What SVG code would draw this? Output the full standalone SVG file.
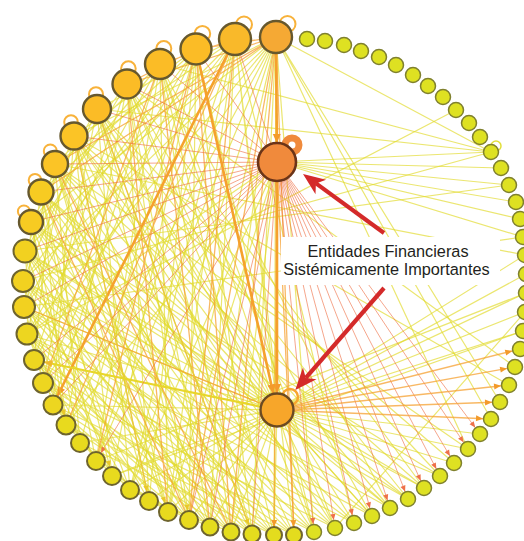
<svg xmlns="http://www.w3.org/2000/svg" width="524" height="541" viewBox="0 0 524 541">
<style>
.y{fill:none;stroke:#e2da2c;stroke-width:1.2;stroke-opacity:.68}
.o{fill:none;stroke:#f5a030;stroke-width:1.3;stroke-opacity:.75}
.r{fill:none;stroke:#ee6b40;stroke-width:1;stroke-opacity:.6}
.ot{fill:none;stroke:#f5a12c;stroke-width:2.6}
.yt{fill:none;stroke:#e8d62a;stroke-width:2.2}
.lp{fill:none;stroke:#f8b23a;stroke-width:2}
.nb{stroke:#66582e;stroke-width:2.4}
.nm{stroke:#6e642e;stroke-width:2}
.ns{stroke:#7f802e;stroke-width:1.5;fill:#dee122}
.lbl{font-family:"Liberation Sans",Arial,sans-serif;font-size:16.3px;fill:#231f20;text-anchor:middle}
.ar{stroke:#d42a2a;stroke-width:4.2;fill:none}
.ah{fill:#d42a2a}
</style>
<defs>
<marker id="mo8" markerUnits="userSpaceOnUse" orient="auto" refX="8" refY="0" markerWidth="1" markerHeight="1" overflow="visible"><path d="M0 0L-7-3L-7 3Z" fill="#f39a2a"/></marker>
<marker id="mo10" markerUnits="userSpaceOnUse" orient="auto" refX="10" refY="0" markerWidth="1" markerHeight="1" overflow="visible"><path d="M0 0L-9-4L-9 4Z" fill="#f39a2a"/></marker>
<marker id="mo17" markerUnits="userSpaceOnUse" orient="auto" refX="17" refY="0" markerWidth="1" markerHeight="1" overflow="visible"><path d="M0 0L-9-4L-9 4Z" fill="#f39a2a"/></marker>
<marker id="mo19" markerUnits="userSpaceOnUse" orient="auto" refX="19" refY="0" markerWidth="1" markerHeight="1" overflow="visible"><path d="M0 0L-9-4L-9 4Z" fill="#f39a2a"/></marker>
<marker id="mr8" markerUnits="userSpaceOnUse" orient="auto" refX="8" refY="0" markerWidth="1" markerHeight="1" overflow="visible"><path d="M0 0L-6-2.6L-6 2.6Z" fill="#ee7048"/></marker>
<marker id="mr9" markerUnits="userSpaceOnUse" orient="auto" refX="9.5" refY="0" markerWidth="1" markerHeight="1" overflow="visible"><path d="M0 0L-6-2.6L-6 2.6Z" fill="#ee7048"/></marker>
<marker id="my9" markerUnits="userSpaceOnUse" orient="auto" refX="9.5" refY="0" markerWidth="1" markerHeight="1" overflow="visible"><path d="M0 0L-6-2.6L-6 2.6Z" fill="#e9c82a"/></marker>
<marker id="my10" markerUnits="userSpaceOnUse" orient="auto" refX="10.5" refY="0" markerWidth="1" markerHeight="1" overflow="visible"><path d="M0 0L-8-3.5L-8 3.5Z" fill="#f0b830"/></marker>
</defs>
<rect width="524" height="541" fill="#fff"/>
<g id="connectors">
<path class="y" d="M235 39L210 527M235 39L168 512M235 39L130 490M235 39L96 461M235 39L34 360M235 39L24 307M235 39L25 251M235 39L55 164M235 39L294 535M235 39L354 523M235 39L277 410"/>
<path class="y" d="M196 49L252 534M196 49L189 520M196 49L149 501M196 49L112 476M196 49L80 443M196 49L43 383M196 49L27 334M196 49L23 281M196 49L41 192M196 49L314 532"/>
<path class="y" d="M160 64L335 528M160 64L274 535M160 64L231 532M160 64L168 512M160 64L96 461M160 64L53 405M160 64L24 307M160 64L31 222M160 64L390 508M160 64L277 410"/>
<path class="y" d="M127 84L372 516M127 84L314 532M127 84L252 534M127 84L210 527M127 84L149 501M127 84L66 425M127 84L34 360M127 84L25 251M127 84L424 488"/>
<path class="y" d="M97 109L408 499M97 109L354 523M97 109L294 535M97 109L231 532M97 109L189 520M97 109L130 490M97 109L43 383M97 109L23 281M97 109L440 476M97 109L277 410"/>
<path class="y" d="M74 136L390 508M74 136L335 528M74 136L274 535M74 136L210 527M74 136L168 512M74 136L112 476M74 136L53 405M74 136L27 334M74 136L454 463"/>
<path class="y" d="M55 164L424 488M55 164L372 516M55 164L314 532M55 164L252 534M55 164L189 520M55 164L149 501M55 164L80 443M55 164L34 360M55 164L468 449M55 164L277 410"/>
<path class="y" d="M41 192L408 499M41 192L354 523M41 192L294 535M41 192L231 532M41 192L168 512M41 192L96 461M41 192L66 425"/>
<path class="y" d="M31 222L440 476M31 222L390 508M31 222L335 528M31 222L274 535M31 222L210 527M31 222L130 490M31 222L80 443M31 222L277 410"/>
<path class="y" d="M25 251L424 488M25 251L372 516M25 251L314 532M25 251L252 534M25 251L189 520M25 251L112 476M25 251L277 410"/>
<path class="y" d="M23 281L408 499M23 281L354 523M23 281L294 535M23 281L231 532M23 281L149 501M23 281L66 425M23 281L277 410"/>
<path class="y" d="M24 307L390 508M24 307L335 528M24 307L274 535M24 307L210 527M24 307L130 490M24 307L277 410"/>
<path class="y" d="M27 334L372 516M27 334L314 532M27 334L252 534M27 334L189 520M27 334L96 461M27 334L456 110"/>
<path class="y" d="M34 360L354 523M34 360L294 535M34 360L231 532M34 360L168 512M43 383L335 528M43 383L274 535M43 383L210 527M53 405L314 532M53 405L252 534M53 405L189 520M53 405L277 410M66 425L294 535M66 425L231 532M80 443L274 535M80 443L277 410"/>
<path class="y" d="M276 37L252 534M276 37L210 527M276 37L168 512M276 37L130 490M276 37L96 461M276 37L66 425M276 37L43 383M276 37L27 334M276 37L23 281M276 37L31 222M276 37L74 136M276 37L314 532M276 37L274 535M276 37L491 152M276 37L491 419M276 37L468 449M276 37L500 402"/>
<path class="y" d="M235 39L97 109M196 49L74 136M160 64L55 164M127 84L41 192M97 109L31 222M74 136L25 251M55 164L23 281M41 192L24 307M31 222L27 334M25 251L34 360M23 281L43 383M24 307L53 405M27 334L66 425M34 360L80 443M43 383L96 461M53 405L112 476M66 425L130 490M80 443L149 501M96 461L168 512M112 476L189 520M130 490L210 527M149 501L231 532"/>
<path class="y" d="M277 410L335 528M277 410L314 532M277 410L274 535M277 410L252 534M277 410L231 532M277 410L210 527M277 410L189 520M277 410L168 512M277 410L149 501M277 410L130 490M277 410L112 476M277 410L27 334M277 410L41 192M277 410L74 136M277 410L127 84M277 410L526 293M277 410L525 312M277 410L523 331M277 410L525 255M277 410L526 274M277 410L480 434M277 410L372 516M277 410L408 499M277 410L468 449M277 410L454 463M277 410L440 476M277 410L424 488M277 410L390 508"/>
<path class="y" d="M277 162L27 334M277 162L66 425M277 162L130 490M277 162L168 512M277 162L231 532M277 162L520 219M277 162L516 202M277 162L509 185M277 162L491 152M277 162L523 237M277 162L501 168"/>
<path class="y" d="M491 152L97 109M491 152L160 64M491 152L23 281M523 237L24 307M525 255L55 164M509 185L25 251M526 293L96 461M523 331L112 476M525 312L335 528M127 84L515 367M74 136L509 385"/>
<path class="o" d="M235 39L189 520M235 39L66 425M196 49L231 532M196 49L96 461M160 64L210 527M160 64L43 383M127 84L168 512M97 109L252 534M74 136L149 501M55 164L231 532M41 192L189 520M276 37L231 532M276 37L294 535M276 37L189 520M276 37L55 164M276 37L41 192M276 37L127 84M235 39L160 64M196 49L127 84M276 37L196 49M277 410L24 307"/>
<path class="r" d="M277 162L235 39M277 162L196 49M277 162L160 64M277 162L127 84M277 162L97 109M277 162L74 136M277 162L55 164M277 162L41 192M277 162L31 222M277 162L25 251M277 162L23 281M277 162L24 307M277 162L34 360M277 162L43 383M277 162L53 405M277 162L252 534M277 162L210 527M277 162L189 520"/>
<line class="ot" x1="276" y1="37" x2="277" y2="162" marker-end="url(#mo19)"/>
<line class="ot" x1="277" y1="162" x2="277" y2="410" marker-end="url(#mo17)"/>
<line class="ot" x1="196" y1="49" x2="277" y2="410" marker-end="url(#mo17)"/>
<line class="ot" x1="235" y1="39" x2="53" y2="405" marker-end="url(#mo10)"/>
<line class="yt" x1="277" y1="410" x2="34" y2="360" marker-end="url(#my10)"/>
<line class="r" x1="277" y1="162" x2="96" y2="461" marker-end="url(#mr9)"/>
<line class="r" x1="277" y1="162" x2="480" y2="434" marker-end="url(#mr8)"/>
<line class="r" x1="277" y1="162" x2="468" y2="449" marker-end="url(#mr8)"/>
<line class="r" x1="277" y1="162" x2="454" y2="463" marker-end="url(#mr8)"/>
<line class="r" x1="277" y1="162" x2="440" y2="476" marker-end="url(#mr8)"/>
<line class="r" x1="277" y1="162" x2="424" y2="488" marker-end="url(#mr8)"/>
<line class="r" x1="277" y1="162" x2="408" y2="499" marker-end="url(#mr8)"/>
<line class="r" x1="277" y1="162" x2="390" y2="508" marker-end="url(#mr8)"/>
<line class="r" x1="277" y1="162" x2="372" y2="516" marker-end="url(#mr8)"/>
<line class="r" x1="277" y1="162" x2="354" y2="523" marker-end="url(#mr8)"/>
<line class="r" x1="277" y1="162" x2="335" y2="528" marker-end="url(#mr8)"/>
<line class="r" x1="277" y1="162" x2="314" y2="532" marker-end="url(#mr8)"/>
<line class="o" x1="277" y1="162" x2="294" y2="535" marker-end="url(#mo8)"/>
<line class="o" x1="277" y1="162" x2="274" y2="535" marker-end="url(#mo8)"/>
<line class="o" x1="277" y1="410" x2="520" y2="349" marker-end="url(#mo8)"/>
<line class="o" x1="277" y1="410" x2="515" y2="367" marker-end="url(#mo8)"/>
<line class="o" x1="277" y1="410" x2="509" y2="385" marker-end="url(#mo8)"/>
<line class="o" x1="277" y1="410" x2="500" y2="402" marker-end="url(#mo8)"/>
<line class="o" x1="277" y1="410" x2="491" y2="419" marker-end="url(#mo8)"/>
<line class="y" x1="74" y1="136" x2="149" y2="501" marker-end="url(#my9)"/>
<line class="y" x1="41" y1="192" x2="112" y2="476" marker-end="url(#my9)"/>
<line class="y" x1="31" y1="222" x2="66" y2="425" marker-end="url(#my9)"/>
<line class="y" x1="127" y1="84" x2="189" y2="520" marker-end="url(#my9)"/>
<line class="y" x1="97" y1="109" x2="252" y2="534" marker-end="url(#my9)"/>
<line class="y" x1="55" y1="164" x2="168" y2="512" marker-end="url(#my9)"/>
<circle class="lp" cx="287.5" cy="24" r="8"/>
<circle class="lp" cx="244" cy="24.5" r="8"/>
<circle class="lp" cx="202.4" cy="33.8" r="7.8"/>
<circle class="lp" cx="163.8" cy="48.5" r="7.5"/>
<circle class="lp" cx="128.4" cy="68.6" r="7.3"/>
<circle class="lp" cx="96" cy="94.2" r="7"/>
<circle class="lp" cx="71" cy="122" r="6.8"/>
<circle class="lp" cx="50.3" cy="151" r="6.5"/>
<circle class="lp" cx="35" cy="180.2" r="6.3"/>
<circle class="lp" cx="23.9" cy="211.4" r="6"/>
<circle cx="496" cy="146" r="5" fill="none" stroke="#e2df3a" stroke-width="1.5"/>
<circle cx="292" cy="145" r="7" fill="#fff" stroke="#f08a3c" stroke-width="7"/>
<circle cx="290" cy="397" r="8" fill="none" stroke="#f7a530" stroke-width="2.5"/>
</g>
<g id="n0"><circle class="nb" cx="276" cy="37" r="16" fill="#f5a934"/></g>
<g id="n1"><circle class="ns" cx="307" cy="39" r="7.5"/></g>
<g id="n2"><circle class="ns" cx="325" cy="41" r="7.5"/></g>
<g id="n3"><circle class="ns" cx="344" cy="45" r="7.5"/></g>
<g id="n4"><circle class="ns" cx="361" cy="51" r="7.5"/></g>
<g id="n5"><circle class="ns" cx="379" cy="57" r="7.5"/></g>
<g id="n6"><circle class="ns" cx="396" cy="65" r="7.5"/></g>
<g id="n7"><circle class="ns" cx="413" cy="75" r="7.5"/></g>
<g id="n8"><circle class="ns" cx="428" cy="86" r="7.5"/></g>
<g id="n9"><circle class="ns" cx="443" cy="97" r="7.5"/></g>
<g id="n10"><circle class="ns" cx="456" cy="110" r="7.5"/></g>
<g id="n11"><circle class="ns" cx="469" cy="123" r="7.5"/></g>
<g id="n12"><circle class="ns" cx="480" cy="137" r="7.5"/></g>
<g id="n13"><circle class="ns" cx="491" cy="152" r="7.5"/></g>
<g id="n14"><circle class="ns" cx="501" cy="168" r="7.5"/></g>
<g id="n15"><circle class="ns" cx="509" cy="185" r="7.5"/></g>
<g id="n16"><circle class="ns" cx="516" cy="202" r="7.5"/></g>
<g id="n17"><circle class="ns" cx="520" cy="219" r="7.5"/></g>
<g id="n18"><circle class="ns" cx="523" cy="237" r="7.5"/></g>
<g id="n19"><circle class="ns" cx="525" cy="255" r="7.5"/></g>
<g id="n20"><circle class="ns" cx="526" cy="274" r="7.5"/></g>
<g id="n21"><circle class="ns" cx="526" cy="293" r="7.5"/></g>
<g id="n22"><circle class="ns" cx="525" cy="312" r="7.5"/></g>
<g id="n23"><circle class="ns" cx="523" cy="331" r="7.5"/></g>
<g id="n24"><circle class="ns" cx="520" cy="349" r="7.5"/></g>
<g id="n25"><circle class="ns" cx="515" cy="367" r="7.5"/></g>
<g id="n26"><circle class="ns" cx="509" cy="385" r="7.5"/></g>
<g id="n27"><circle class="ns" cx="500" cy="402" r="7.5"/></g>
<g id="n28"><circle class="ns" cx="491" cy="419" r="7.5"/></g>
<g id="n29"><circle class="ns" cx="480" cy="434" r="7.5"/></g>
<g id="n30"><circle class="ns" cx="468" cy="449" r="7.5"/></g>
<g id="n31"><circle class="ns" cx="454" cy="463" r="7.5"/></g>
<g id="n32"><circle class="ns" cx="440" cy="476" r="7.5"/></g>
<g id="n33"><circle class="ns" cx="424" cy="488" r="7.5"/></g>
<g id="n34"><circle class="ns" cx="408" cy="499" r="7.5"/></g>
<g id="n35"><circle class="ns" cx="390" cy="508" r="7.5"/></g>
<g id="n36"><circle class="ns" cx="372" cy="516" r="7.5"/></g>
<g id="n37"><circle class="ns" cx="354" cy="523" r="7.5"/></g>
<g id="n38"><circle class="ns" cx="335" cy="528" r="7.5"/></g>
<g id="n39"><circle class="ns" cx="314" cy="532" r="7.5"/></g>
<g id="n40"><circle class="nm" cx="294" cy="535" r="8" fill="#e4dc1e"/></g>
<g id="n41"><circle class="nm" cx="274" cy="535" r="8" fill="#e4dc1e"/></g>
<g id="n42"><circle class="nm" cx="252" cy="534" r="8.5" fill="#e4dc1e"/></g>
<g id="n43"><circle class="nm" cx="231" cy="532" r="8.5" fill="#e4dc1e"/></g>
<g id="n44"><circle class="nm" cx="210" cy="527" r="8.5" fill="#e4dc1e"/></g>
<g id="n45"><circle class="nm" cx="189" cy="520" r="9" fill="#e8da1e"/></g>
<g id="n46"><circle class="nm" cx="168" cy="512" r="9" fill="#e8da1e"/></g>
<g id="n47"><circle class="nm" cx="149" cy="501" r="9" fill="#e8da1e"/></g>
<g id="n48"><circle class="nm" cx="130" cy="490" r="9" fill="#e8da1e"/></g>
<g id="n49"><circle class="nm" cx="112" cy="476" r="9" fill="#e8da1e"/></g>
<g id="n50"><circle class="nm" cx="96" cy="461" r="9" fill="#e8da1e"/></g>
<g id="n51"><circle class="nm" cx="80" cy="443" r="9" fill="#e8da1e"/></g>
<g id="n52"><circle class="nm" cx="66" cy="425" r="9.5" fill="#e8da1e"/></g>
<g id="n53"><circle class="nm" cx="53" cy="405" r="9.5" fill="#edd620"/></g>
<g id="n54"><circle class="nm" cx="43" cy="383" r="10" fill="#edd620"/></g>
<g id="n55"><circle class="nm" cx="34" cy="360" r="10" fill="#edd620"/></g>
<g id="n56"><circle class="nm" cx="27" cy="334" r="10.5" fill="#edd620"/></g>
<g id="n57"><circle class="nm" cx="24" cy="307" r="11" fill="#f2d120"/></g>
<g id="n58"><circle class="nm" cx="23" cy="281" r="11" fill="#f2d120"/></g>
<g id="n59"><circle class="nm" cx="25" cy="251" r="11.5" fill="#f2d120"/></g>
<g id="n60"><circle class="nb" cx="31" cy="222" r="12" fill="#f7cb22"/></g>
<g id="n61"><circle class="nb" cx="41" cy="192" r="12.5" fill="#f7cb22"/></g>
<g id="n62"><circle class="nb" cx="55" cy="164" r="13" fill="#fbc426"/></g>
<g id="n63"><circle class="nb" cx="74" cy="136" r="13.5" fill="#fbc426"/></g>
<g id="n64"><circle class="nb" cx="97" cy="109" r="14" fill="#fbbc26"/></g>
<g id="n65"><circle class="nb" cx="127" cy="84" r="14.5" fill="#fbbc26"/></g>
<g id="n66"><circle class="nb" cx="160" cy="64" r="15" fill="#fbbc26"/></g>
<g id="n67"><circle class="nb" cx="196" cy="49" r="15.5" fill="#fbbc26"/></g>
<g id="n68"><circle class="nb" cx="235" cy="39" r="16" fill="#f9b92a"/></g>
<g id="c1"><circle cx="277" cy="162" r="19" fill="#f08a3c" stroke="#6b3418" stroke-width="2.6"/></g>
<g id="c2"><circle cx="277" cy="410" r="16.5" fill="#f7a62a" stroke="#6b4a22" stroke-width="2.4"/></g>
<g id="label">
<rect x="281" y="237" width="219" height="48" fill="#fff"/>
<text class="lbl" x="388" y="257">Entidades Financieras</text>
<text class="lbl" x="386.5" y="275">Sistémicamente Importantes</text>
<line class="ar" x1="384" y1="233" x2="316" y2="183.4"/>
<path class="ah" d="M303 174L315.5 194.3L315.9 183.4L326.1 179.7Z"/>
<line class="ar" x1="384" y1="288" x2="305.8" y2="377.9"/>
<path class="ah" d="M295.3 390L316.5 379.3L305.8 377.9L302.9 367.5Z"/>
</g>
</svg>
